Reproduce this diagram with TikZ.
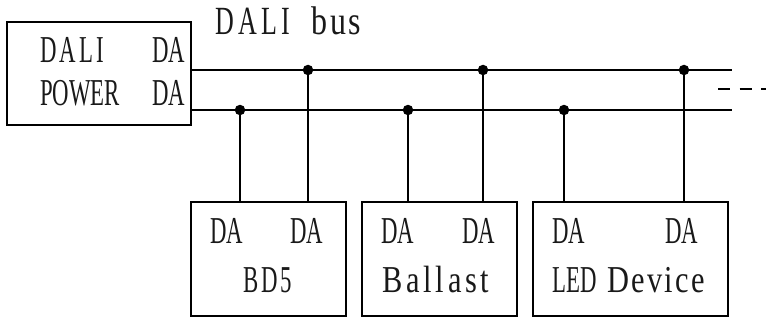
\documentclass[tikz,border=0pt]{standalone}
\usepackage{fontspec}
\newfontfamily\capsfont[FakeStretch=0.6]{Liberation Serif}
\newfontfamily\capswide[FakeStretch=0.6,LetterSpace=8]{Liberation Serif}
\newfontfamily\titlecaps[FakeStretch=0.65,LetterSpace=11]{Liberation Serif}
\newfontfamily\titlelow[FakeStretch=0.8,LetterSpace=7]{Liberation Serif}
\newfontfamily\ballastfont[FakeStretch=0.8,LetterSpace=10]{Liberation Serif}
\newfontfamily\devicefont[FakeStretch=0.8,LetterSpace=6]{Liberation Serif}
\begin{document}
\begin{tikzpicture}[x=1pt,y=-1pt,
  unitbox/.style={draw=black,line width=2pt,rectangle,inner sep=0pt,anchor=north west,fill=white},
  lbl/.style={inner sep=0pt,anchor=base west,font=\capsfont\fontsize{38pt}{38pt}\selectfont,text=black!90},
  ttl/.style={inner sep=0pt,anchor=base west,font=\capsfont\fontsize{40pt}{40pt}\selectfont,text=black!90},
  junction/.style={circle,fill=black,inner sep=0pt,minimum size=10.5pt},
  topbus/.style={line width=2.3pt},
  lowbus/.style={line width=1.9pt},
  drop/.style={line width=2pt},
  cont/.style={line width=2pt,dash pattern=on 12pt off 9.5pt}]
\useasboundingbox (0,0) rectangle (766,321);
\node[unitbox,minimum width=184pt,minimum height=103pt] (power) at (6,21) {};
\node[unitbox,minimum width=155pt,minimum height=114pt] (bd) at (190,201) {};
\node[unitbox,minimum width=155pt,minimum height=114pt] (ballast) at (361,201) {};
\node[unitbox,minimum width=195pt,minimum height=114pt] (led) at (532,201) {};

\node[ttl] (title) at (215,35) {\titlecaps DALI\hspace{10pt} \titlelow bus};
\node[lbl] (l1) at (40,63) {\capswide DALI};
\node[lbl] (l2) at (152,63) {DA};
\node[lbl] (l3) at (40,105) {POWER};
\node[lbl] (l4) at (152,105) {DA};
\node[lbl] (b1) at (210,243) {DA};
\node[lbl] (b2) at (290,243) {DA};
\node[lbl] (b3) at (243,292) {\capswide BD5};
\node[lbl] (c1) at (381,243) {DA};
\node[lbl] (c2) at (462,243) {DA};
\node[lbl] (c3) at (382,292) {\ballastfont Ballast};
\node[lbl] (d1) at (552,243) {DA};
\node[lbl] (d2) at (665,243) {DA};
\node[lbl] (d3) at (552,292) {LED\hspace{5pt} \devicefont Device};

\coordinate (topstart) at (190,70);
\coordinate (topend) at (732,70);
\coordinate (lowstart) at (190,110);
\coordinate (lowend) at (732,110);
\coordinate (contstart) at (718,89.5);
\coordinate (contend) at (766,89.5);

\node[junction] (j1) at (308,70) {};
\node[junction] (j2) at (483,70) {};
\node[junction] (j3) at (684,70) {};
\node[junction] (k1) at (240,110) {};
\node[junction] (k2) at (408,110) {};
\node[junction] (k3) at (564,110) {};

\draw[topbus] (topstart) -- (topend);
\draw[lowbus] (lowstart) -- (lowend);
\draw[drop] (k1.center) -- (k1.center |- bd.north);
\draw[drop] (j1.center) -- (j1.center |- bd.north);
\draw[drop] (k2.center) -- (k2.center |- ballast.north);
\draw[drop] (j2.center) -- (j2.center |- ballast.north);
\draw[drop] (k3.center) -- (k3.center |- led.north);
\draw[line width=2.4pt] (j3.center) -- (j3.center |- led.north);
\draw[cont] (contstart) -- (contend);
\end{tikzpicture}
\end{document}
